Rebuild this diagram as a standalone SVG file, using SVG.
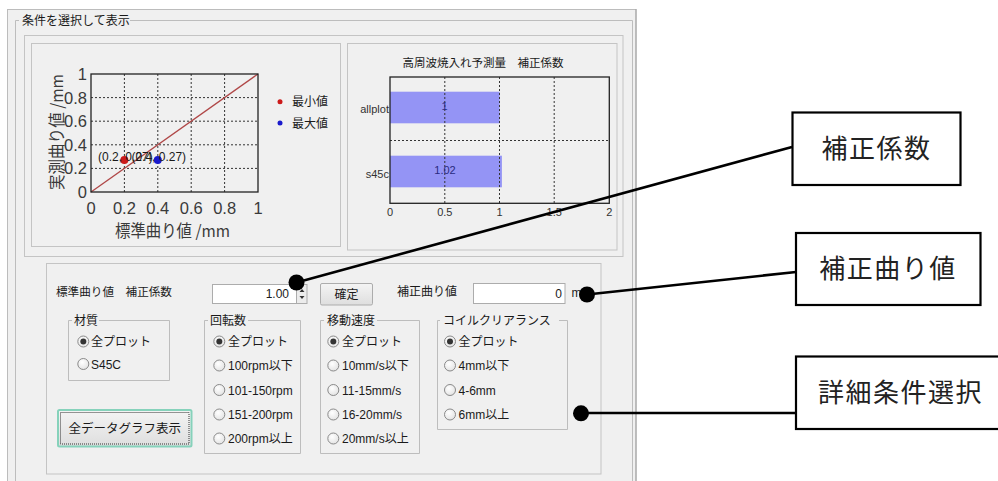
<svg xmlns="http://www.w3.org/2000/svg" width="998" height="481" viewBox="0 0 998 481">
<defs>
<style>
.ui{font-family:"Liberation Sans","Noto Sans CJK JP",sans-serif;font-size:12px;fill:#1a1a1a}
.jp{font-family:"Noto Sans CJK JP",sans-serif;font-size:12px;fill:#1a1a1a}
.frame{fill:none;stroke:#c4c4c4;stroke-width:1}
.grp{fill:none;stroke:#bdbdbd;stroke-width:1}
.grid{stroke:#333;stroke-width:1;stroke-dasharray:2,2}
.tick{font-family:"Liberation Sans",sans-serif;font-size:16.5px;fill:#3a3a3a}
.btick{font-family:"Liberation Sans",sans-serif;font-size:11px;fill:#333}
.rb{fill:url(#rg);stroke:#8a8a8a;stroke-width:1}
.sel{fill:#333}
.input{fill:#fff;stroke:#acacac;stroke-width:1}
.conn{stroke:#000;stroke-width:2.6;fill:none}
.dot{fill:#000}
.call{fill:#fff;stroke:#000;stroke-width:2.2}
.calltxt{font-family:"Noto Sans CJK JP",sans-serif;font-size:26px;fill:#222;letter-spacing:1.5px}
</style>
<radialGradient id="rg" cx="0.4" cy="0.35" r="0.7">
<stop offset="0" stop-color="#ffffff"/>
<stop offset="1" stop-color="#e2e2e2"/>
</radialGradient>
<linearGradient id="bg" x1="0" y1="0" x2="0" y2="1">
<stop offset="0" stop-color="#f4f4f4"/>
<stop offset="1" stop-color="#dedede"/>
</linearGradient>
</defs>
<rect x="0" y="0" width="998" height="481" fill="#fff"/>
<!-- window -->
<g id="window">
<rect x="7.5" y="9.5" width="628.5" height="472" fill="#f0f0f0" stroke="#bcbcbc"/>
<line x1="636" y1="9" x2="636" y2="481" stroke="#a0a0a0"/>
<path class="grp" d="M15.5,481 V20.5 H19 M130,20.5 H632.5 V481"/>
<text class="jp" x="22" y="25">条件を選択して表示</text>
</g>
<!-- chart panel -->
<g id="chart-panel">
<rect class="frame" x="24.5" y="35.5" width="598.5" height="221"/>
<rect class="frame" x="31.5" y="43.5" width="309" height="203"/>
<rect class="frame" x="347.5" y="43.5" width="269.5" height="206.5"/>
</g>
<!-- scatter plot -->
<g id="scatter">
<g>
<line class="grid" x1="124.4" y1="74" x2="124.4" y2="192"/>
<line class="grid" x1="157.8" y1="74" x2="157.8" y2="192"/>
<line class="grid" x1="191.2" y1="74" x2="191.2" y2="192"/>
<line class="grid" x1="224.6" y1="74" x2="224.6" y2="192"/>
<line class="grid" x1="91" y1="168.4" x2="258" y2="168.4"/>
<line class="grid" x1="91" y1="144.8" x2="258" y2="144.8"/>
<line class="grid" x1="91" y1="121.2" x2="258" y2="121.2"/>
<line class="grid" x1="91" y1="97.6" x2="258" y2="97.6"/>
</g>
<line x1="91" y1="192" x2="258" y2="74" stroke="#b04848" stroke-width="1.3"/>
<rect x="91" y="74" width="167" height="118" fill="none" stroke="#222" stroke-width="1.3"/>
<g class="tick" text-anchor="end">
<text x="87" y="80">1</text>
<text x="87" y="103.6">0.8</text>
<text x="87" y="127.2">0.6</text>
<text x="87" y="150.8">0.4</text>
<text x="87" y="174.4">0.2</text>
<text x="87" y="198">0</text>
</g>
<g class="tick" text-anchor="middle">
<text x="91" y="214">0</text>
<text x="124.4" y="214">0.2</text>
<text x="157.8" y="214">0.4</text>
<text x="191.2" y="214">0.6</text>
<text x="224.6" y="214">0.8</text>
<text x="258" y="214">1</text>
</g>
<text class="jp" x="115" y="237" textLength="115" lengthAdjust="spacingAndGlyphs" style="font-size:16.5px;fill:#3a3a3a">標準曲り値 /mm</text>
<text class="jp" transform="translate(63,190) rotate(-90)" textLength="116" lengthAdjust="spacingAndGlyphs" style="font-size:16.5px;fill:#3a3a3a">実測曲り値 /mm</text>
<circle cx="124.4" cy="160" r="4" fill="#cc1a1a"/>
<circle cx="157.8" cy="160" r="4" fill="#1a1acc"/>
<text class="ui" x="98" y="161" style="font-size:12px">(0.2, 0.27)</text>
<text class="ui" x="131.4" y="161" style="font-size:12px">(0.4, 0.27)</text>
<circle cx="280" cy="101.7" r="2.5" fill="#cc1a1a"/>
<text class="jp" x="292" y="106">最小値</text>
<circle cx="280" cy="123" r="2.5" fill="#1a1acc"/>
<text class="jp" x="292" y="127.5">最大値</text>
</g>
<!-- bar chart -->
<g id="barchart">
<text class="jp" x="483" y="67" text-anchor="middle" style="font-size:11.5px">高周波焼入れ予測量　補正係数</text>
<rect x="390" y="91.7" width="109.7" height="31.6" fill="#9494f5"/>
<rect x="390" y="155.7" width="111.9" height="31.6" fill="#9494f5"/>
<line class="grid" x1="444.8" y1="77" x2="444.8" y2="203.3"/>
<line class="grid" x1="499.5" y1="77" x2="499.5" y2="203.3"/>
<line class="grid" x1="554.2" y1="77" x2="554.2" y2="203.3"/>
<line class="grid" x1="390" y1="140.5" x2="609.3" y2="140.5"/>
<rect x="390" y="77" width="219.3" height="126.3" fill="none" stroke="#222" stroke-width="1.3"/>
<text class="btick" x="444.5" y="110" text-anchor="middle" style="fill:#2a2a80">1</text>
<text class="btick" x="445" y="174" text-anchor="middle" style="fill:#2a2a80">1.02</text>
<text class="btick" x="389" y="113" text-anchor="end">allplot</text>
<text class="btick" x="389" y="178" text-anchor="end">s45c</text>
<g class="btick" text-anchor="middle">
<text x="390" y="216">0</text>
<text x="444.8" y="216">0.5</text>
<text x="499.5" y="216">1</text>
<text x="554.2" y="216">1.5</text>
<text x="609.3" y="216">2</text>
</g>
</g>
<!-- bottom panel -->
<g id="condition-panel">
<rect class="frame" x="46.5" y="263.5" width="554.5" height="210.5"/>
<text class="jp" x="56" y="296" style="font-size:11.6px">標準曲り値　補正係数</text>
<rect class="input" x="212.5" y="284.5" width="84" height="19"/>
<text class="ui" x="289" y="298" text-anchor="end">1.00</text>
<rect x="296.5" y="284.5" width="10.5" height="19" fill="#ececec" stroke="#acacac"/>
<path d="M299.5,292 l2.5,-3 l2.5,3z M299.5,296 l2.5,3 l2.5,-3z" fill="#333"/>
<rect x="320.5" y="283.5" width="52" height="21.5" rx="1.5" fill="url(#bg)" stroke="#acacac"/>
<text class="jp" x="346.5" y="299" text-anchor="middle">確定</text>
<text class="jp" x="397" y="296">補正曲り値</text>
<rect class="input" x="473.5" y="283.5" width="91.5" height="20"/>
<text class="ui" x="562" y="298" text-anchor="end">0</text>
<text class="ui" x="571.5" y="297">mm</text>
</g>
<g id="group-material">
<path class="grp" d="M72,320.5 H68.5 V380.5 H169.5 V320.5 H99"/>
<text class="jp" x="74" y="325">材質</text>
<circle class="rb" cx="83.3" cy="341.5" r="5.5"/><circle class="sel" cx="83.3" cy="341.5" r="3"/>
<text class="jp" x="91" y="346">全プロット</text>
<circle class="rb" cx="83.3" cy="364" r="5.5"/>
<text class="ui" x="91" y="368.5">S45C</text>
</g>
<g id="button-all">
<rect x="58" y="410" width="133.5" height="36.5" rx="1.5" fill="url(#bg)" stroke="#86d2bb" stroke-width="2"/>
<rect x="60.5" y="412.5" width="128.5" height="31.5" fill="none" stroke="#333" stroke-width="1" stroke-dasharray="1,1"/>
<text class="jp" x="124.7" y="433" text-anchor="middle" style="font-size:12.5px">全データグラフ表示</text>
</g>
<g id="group-rpm">
<path class="grp" d="M208,320.5 H204.5 V453.5 H300.5 V320.5 H248"/>
<text class="jp" x="210" y="325">回転数</text>
<circle class="rb" cx="219.3" cy="341.5" r="5.5"/><circle class="sel" cx="219.3" cy="341.5" r="3"/>
<text class="jp" x="228" y="346">全プロット</text>
<circle class="rb" cx="219.3" cy="365.5" r="5.5"/>
<text class="ui" x="228" y="370">100rpm以下</text>
<circle class="rb" cx="219.3" cy="390" r="5.5"/>
<text class="ui" x="228" y="394.5">101-150rpm</text>
<circle class="rb" cx="219.3" cy="414.5" r="5.5"/>
<text class="ui" x="228" y="419">151-200rpm</text>
<circle class="rb" cx="219.3" cy="438.5" r="5.5"/>
<text class="ui" x="228" y="443">200rpm以上</text>
</g>
<g id="group-speed">
<path class="grp" d="M324,320.5 H320.5 V453.5 H419.5 V320.5 H377"/>
<text class="jp" x="327" y="325">移動速度</text>
<circle class="rb" cx="333.3" cy="341.5" r="5.5"/><circle class="sel" cx="333.3" cy="341.5" r="3"/>
<text class="jp" x="342" y="346">全プロット</text>
<circle class="rb" cx="333.3" cy="365.5" r="5.5"/>
<text class="ui" x="342" y="370">10mm/s以下</text>
<circle class="rb" cx="333.3" cy="390" r="5.5"/>
<text class="ui" x="342" y="394.5">11-15mm/s</text>
<circle class="rb" cx="333.3" cy="414.5" r="5.5"/>
<text class="ui" x="342" y="419">16-20mm/s</text>
<circle class="rb" cx="333.3" cy="438.5" r="5.5"/>
<text class="ui" x="342" y="443">20mm/s以上</text>
</g>
<g id="group-coil">
<path class="grp" d="M440,320.5 H437.5 V429.5 H567.5 V320.5 H559"/>
<text class="jp" x="443" y="325">コイルクリアランス</text>
<circle class="rb" cx="450" cy="341.5" r="5.5"/><circle class="sel" cx="450" cy="341.5" r="3"/>
<text class="jp" x="458.5" y="346">全プロット</text>
<circle class="rb" cx="450" cy="365.5" r="5.5"/>
<text class="ui" x="458.5" y="370">4mm以下</text>
<circle class="rb" cx="450" cy="390" r="5.5"/>
<text class="ui" x="458.5" y="394.5">4-6mm</text>
<circle class="rb" cx="450" cy="414.5" r="5.5"/>
<text class="ui" x="458.5" y="419">6mm以上</text>
</g>
<!-- connectors -->
<g id="connectors">
<line class="conn" x1="792" y1="147" x2="296.5" y2="282.5"/>
<line class="conn" x1="796" y1="272" x2="587" y2="294.5"/>
<line class="conn" x1="796" y1="413" x2="581" y2="413"/>
<circle class="dot" cx="296.5" cy="282.5" r="8"/>
<circle class="dot" cx="587" cy="294.5" r="8"/>
<circle class="dot" cx="581" cy="413.3" r="8"/>
</g>
<!-- callouts -->
<g id="callout-coef">
<rect class="call" x="792.5" y="112.5" width="168" height="72.5"/>
<text class="calltxt" x="876.5" y="158" text-anchor="middle">補正係数</text>
</g>
<g id="callout-bend">
<rect class="call" x="796" y="233" width="184.5" height="72"/>
<text class="calltxt" x="888" y="278" text-anchor="middle">補正曲り値</text>
</g>
<g id="callout-detail">
<rect class="call" x="796" y="356.5" width="205" height="72.5"/>
<text class="calltxt" x="818" y="402">詳細条件選択</text>
</g>
</svg>
